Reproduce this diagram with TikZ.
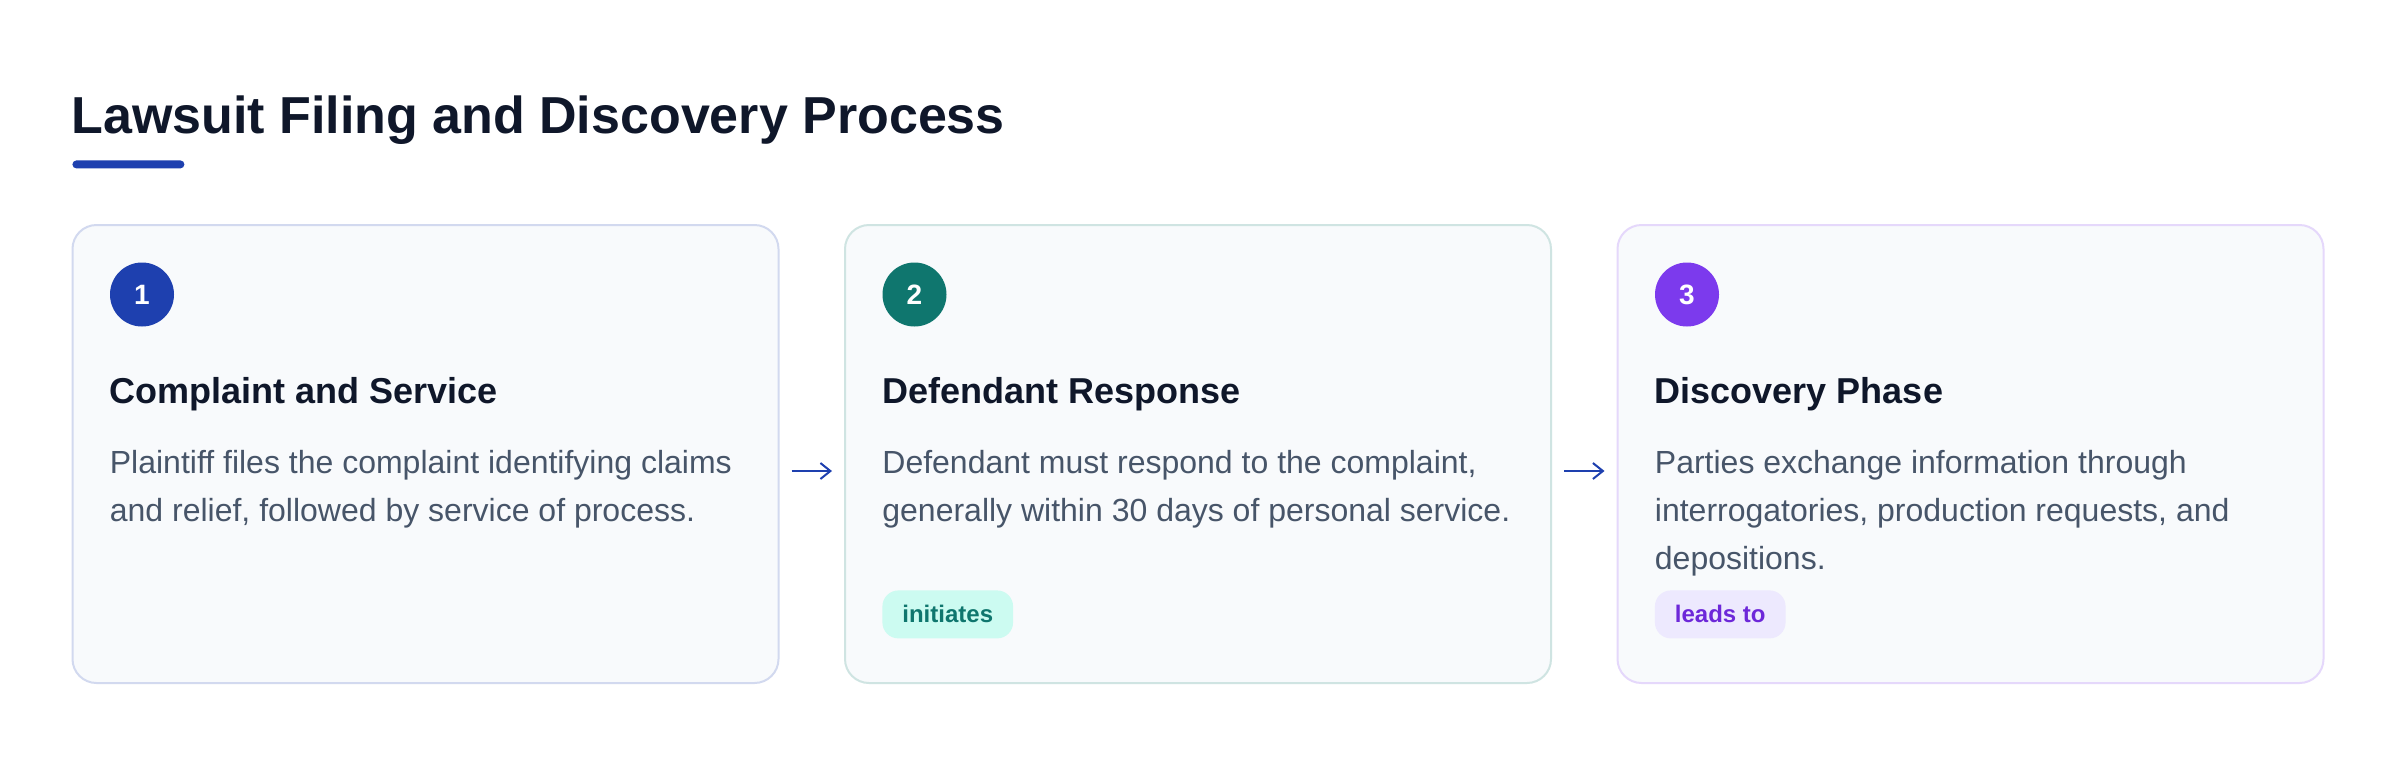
\documentclass[tikz,border=0pt]{standalone}
\usepackage{fontspec}
\setmainfont{Liberation Sans}
\usetikzlibrary{arrows.meta, positioning}

\definecolor{navy}{HTML}{1E40AF}
\definecolor{tealstep}{HTML}{0F766E}
\definecolor{violetstep}{HTML}{7C3AED}
\definecolor{ink}{HTML}{0F172A}
\definecolor{slatetext}{HTML}{475569}
\definecolor{cardfill}{HTML}{F8FAFC}
\definecolor{navyline}{HTML}{D2D9EF}
\definecolor{tealline}{HTML}{CFE4E2}
\definecolor{violetline}{HTML}{E5D8FB}
\definecolor{tealtag}{HTML}{CCFBF1}
\definecolor{violettag}{HTML}{EDE9FE}
\definecolor{violettext}{HTML}{6D28D9}

\begin{document}
\begin{tikzpicture}[
    x=0.5pt, y=-0.5pt,
    card/.style={rectangle, draw, line width=1pt, fill=cardfill, rounded corners=12pt, minimum width=353pt, minimum height=229pt, inner sep=0pt, outer sep=0pt},
    stepnum/.style={circle, minimum size=32pt, inner sep=0pt, text=white, font=\fontsize{14pt}{16pt}\selectfont\bfseries},
    heading/.style={font=\fontsize{18pt}{22pt}\selectfont\bfseries, text=ink, inner sep=0pt},
    body/.style={font=\fontsize{16pt}{24pt}\selectfont, text=slatetext, align=left, inner sep=0pt},
    tag/.style={rectangle, rounded corners=8pt, minimum height=24pt, inner xsep=10pt, inner ysep=0pt, font=\fontsize{12pt}{14pt}\selectfont\bfseries},
    arrow/.style={line width=1pt, navy, -{Straight Barb[length=5pt, width=8pt]}, shorten <=6.5pt, shorten >=6.5pt}
]

% Page
\fill[white] (0,0) rectangle (2400,756);
\useasboundingbox (0,0) rectangle (2400,756);

% Title with underline
\node[font=\fontsize{26pt}{30pt}\selectfont\bfseries, text=ink, inner sep=0pt, anchor=base west] (title) at (71,133) {Lawsuit Filing and Discovery Process};
\node[fill=navy, rounded corners=2pt, minimum width=56pt, minimum height=4pt, inner sep=0pt, below right=13.5pt and 0.5pt of title.base west] (title_rule) {};

% Step cards
\node[card, draw=navyline, anchor=north west] (complaint_card) at (72.5,225) {};
\node[card, draw=tealline, right=33.25pt of complaint_card] (response_card) {};
\node[card, draw=violetline, right=33.25pt of response_card] (discovery_card) {};

% Step numbers
\node[stepnum, fill=navy] (step_one) at ([xshift=34.75pt, yshift=-34.75pt]complaint_card.north west) {1};
\node[stepnum, fill=tealstep] (step_two) at ([xshift=34.75pt, yshift=-34.75pt]response_card.north west) {2};
\node[stepnum, fill=violetstep] (step_three) at ([xshift=34.75pt, yshift=-34.75pt]discovery_card.north west) {3};

% Headings
\node[heading, below right=89pt and 18.5pt of complaint_card.north west, anchor=base west] (complaint_head) {Complaint and Service};
\node[heading, below right=89pt and 18.5pt of response_card.north west, anchor=base west] (response_head) {Defendant Response};
\node[heading, below right=89pt and 18.5pt of discovery_card.north west, anchor=base west] (discovery_head) {Discovery Phase};

% Descriptions (top of first line 11.5pt above its baseline)
\node[body, below right=112.5pt and 18.5pt of complaint_card.north west] (complaint_text) {Plaintiff files the complaint identifying claims\\and relief, followed by service of process.};
\node[body, below right=112.5pt and 18.5pt of response_card.north west] (response_text) {Defendant must respond to the complaint,\\generally within 30 days of personal service.};
\node[body, below right=112.5pt and 18.5pt of discovery_card.north west] (discovery_text) {Parties exchange information through\\interrogatories, production requests, and\\depositions.};

% Relation tags
\node[tag, fill=tealtag, text=tealstep, below right=182.5pt and 18.5pt of response_card.north west] (response_tag) {initiates};
\node[tag, fill=violettag, text=violettext, below right=182.5pt and 18.5pt of discovery_card.north west] (discovery_tag) {leads to};

% Arrows
\draw[arrow] ([yshift=-8.5pt]complaint_card.east) -- ([yshift=-8.5pt]response_card.west);
\draw[arrow] ([yshift=-8.5pt]response_card.east) -- ([yshift=-8.5pt]discovery_card.west);

\end{tikzpicture}
\end{document}
